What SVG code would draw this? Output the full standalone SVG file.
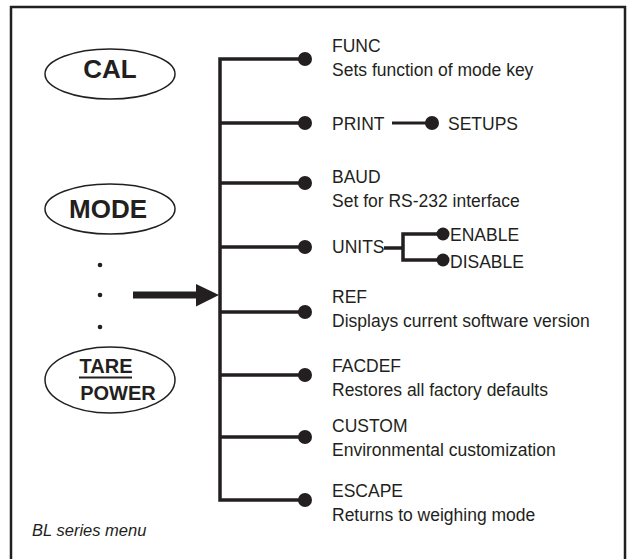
<svg xmlns="http://www.w3.org/2000/svg" width="628" height="559" viewBox="0 0 628 559">
<style>
.ln{stroke:#231f20;stroke-width:3.5;fill:none}
.dot{fill:#231f20}
.t{font-family:"Liberation Sans",Arial,sans-serif;font-size:17.5px;fill:#231f20}
.k{font-family:"Liberation Sans",Arial,sans-serif;font-weight:bold;fill:#231f20;text-anchor:middle}
.el{fill:#fff;stroke:#231f20;stroke-width:1.5}
</style>
<rect x="11" y="7" width="614" height="570" fill="#fff" stroke="#231f20" stroke-width="2.5"/>
<g id="cal"><ellipse class="el" cx="110" cy="74" rx="65" ry="25"/><text class="k" x="110" y="78" font-size="26">CAL</text></g>
<g id="mode"><ellipse class="el" cx="110" cy="209" rx="65" ry="25"/><text class="k" x="108" y="218" font-size="26">MODE</text></g>
<g id="dots"><circle class="dot" cx="100" cy="265" r="2.3"/><circle class="dot" cx="100" cy="295" r="2.3"/><circle class="dot" cx="100" cy="327" r="2.3"/></g>
<g id="tarepower"><ellipse class="el" cx="110" cy="380" rx="65" ry="33"/><text class="k" x="106" y="373" font-size="20">TARE</text><line x1="79" y1="377.5" x2="132" y2="377.5" stroke="#231f20" stroke-width="1.8"/><text class="k" x="118" y="400" font-size="20">POWER</text></g>
<g id="connectors">
<path class="ln" d="M305 59H220V500H305M220 123H305M220 183H305M220 247H305M220 312H305M220 375H305M220 437H305"/>
<path d="M133 291.5H196V284L219 295L196 306.5V298.5H133Z" fill="#231f20"/>
<line x1="392" y1="123" x2="432" y2="123" stroke="#231f20" stroke-width="3"/>
<path class="ln" stroke-width="3" d="M384 248H403M443 234H403V260H443"/>
</g>
<g id="func"><circle class="dot" cx="305" cy="59" r="7"/><text class="t" x="332" y="52">FUNC</text><text class="t" x="332" y="76">Sets function of mode key</text></g>
<g id="print"><circle class="dot" cx="305" cy="123" r="7"/><text class="t" x="332" y="129.5">PRINT</text></g>
<g id="setups"><circle class="dot" cx="432" cy="123" r="7"/><text class="t" x="448" y="129.5">SETUPS</text></g>
<g id="baud"><circle class="dot" cx="305" cy="183" r="7"/><text class="t" x="332" y="183">BAUD</text><text class="t" x="332" y="207">Set for RS-232 interface</text></g>
<g id="units"><circle class="dot" cx="305" cy="247" r="7"/><text class="t" x="332" y="253">UNITS</text></g>
<g id="enable"><circle class="dot" cx="443" cy="234" r="6.5"/><text class="t" x="450" y="241">ENABLE</text></g>
<g id="disable"><circle class="dot" cx="443" cy="260" r="6.5"/><text class="t" x="450" y="268">DISABLE</text></g>
<g id="ref"><circle class="dot" cx="305" cy="312" r="7"/><text class="t" x="332" y="303">REF</text><text class="t" x="332" y="327">Displays current software version</text></g>
<g id="facdef"><circle class="dot" cx="305" cy="375" r="7"/><text class="t" x="332" y="372">FACDEF</text><text class="t" x="332" y="396">Restores all factory defaults</text></g>
<g id="custom"><circle class="dot" cx="305" cy="437" r="7"/><text class="t" x="332" y="432">CUSTOM</text><text class="t" x="332" y="456">Environmental customization</text></g>
<g id="escape"><circle class="dot" cx="305" cy="500" r="7"/><text class="t" x="332" y="497">ESCAPE</text><text class="t" x="332" y="521">Returns to weighing mode</text></g>
<text x="32" y="536" font-family="Liberation Sans,Arial,sans-serif" font-size="16.5" font-style="italic" fill="#231f20">BL series menu</text>
</svg>
